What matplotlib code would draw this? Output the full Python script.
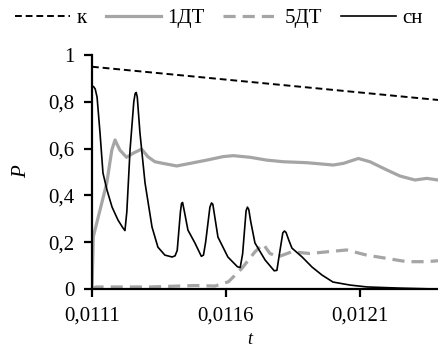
import matplotlib
matplotlib.use("Agg")
import matplotlib.pyplot as plt
from matplotlib.ticker import FuncFormatter

plt.rcParams['font.family'] = ['Liberation Serif', 'DejaVu Serif']
plt.rcParams['font.size'] = 15

# --- data ---
t_k = [0.011100, 0.012391]
p_k = [0.950, 0.808]

t_1dt = [0.011100, 0.011105, 0.011130, 0.011155, 0.011174, 0.011186, 0.011204, 0.011229,
         0.011253, 0.011285, 0.011309, 0.011335, 0.011365, 0.011416, 0.011466, 0.011528,
         0.011590, 0.011627, 0.011690, 0.011752, 0.011814, 0.011901, 0.012000, 0.012038,
         0.012094, 0.012137, 0.012200, 0.012249, 0.012305, 0.012349, 0.012391]
p_1dt = [0.0, 0.224, 0.338, 0.452, 0.594, 0.637, 0.594, 0.563,
         0.580, 0.598, 0.565, 0.544, 0.537, 0.526, 0.537, 0.551,
         0.566, 0.570, 0.563, 0.551, 0.544, 0.540, 0.530, 0.537,
         0.558, 0.544, 0.509, 0.483, 0.466, 0.473, 0.466]

t_5dt = [0.011100, 0.011115, 0.011316, 0.011484, 0.011559, 0.011609, 0.011659, 0.011708,
         0.011739, 0.011764, 0.011795, 0.011845, 0.011913, 0.011976, 0.012050, 0.012125,
         0.012200, 0.012274, 0.012349, 0.012391]
p_5dt = [0.0, 0.009, 0.009, 0.015, 0.013, 0.031, 0.088, 0.159,
         0.192, 0.152, 0.138, 0.159, 0.152, 0.159, 0.167, 0.145,
         0.131, 0.117, 0.117, 0.121]

t_sn = [0.011100, 0.011106, 0.011112, 0.011119, 0.011130, 0.011141, 0.011156, 0.011175,
        0.011197, 0.011215, 0.011223, 0.011230, 0.011242, 0.011256, 0.011261, 0.011265,
        0.011269, 0.011279, 0.011298, 0.011324, 0.011346, 0.011372, 0.011399, 0.011410,
        0.011418, 0.011430, 0.011434, 0.011438, 0.011445, 0.011458, 0.011484, 0.011508,
        0.011516, 0.011524, 0.011540, 0.011546, 0.011551, 0.011558, 0.011570, 0.011607,
        0.011643, 0.011653, 0.011662, 0.011675, 0.011680, 0.011685, 0.011692, 0.011708,
        0.011746, 0.011780, 0.011790, 0.011798, 0.011812, 0.011818, 0.011824, 0.011834,
        0.011846, 0.011884, 0.011921, 0.011958, 0.011999, 0.012063, 0.012126, 0.012249,
        0.012391]
p_sn = [0.868, 0.865, 0.855, 0.820, 0.667, 0.496, 0.423, 0.350,
        0.295, 0.262, 0.250, 0.330, 0.594, 0.800, 0.835, 0.840, 0.820,
        0.667, 0.453, 0.265, 0.179, 0.145, 0.137, 0.142, 0.165, 0.330, 0.365,
        0.370, 0.330, 0.252, 0.197, 0.140, 0.145, 0.200, 0.350, 0.368, 0.362,
        0.310, 0.222, 0.137, 0.095, 0.092, 0.150, 0.335, 0.350, 0.340, 0.290,
        0.197, 0.124, 0.078, 0.080, 0.140, 0.240, 0.248, 0.242, 0.210,
        0.175, 0.137, 0.094, 0.060, 0.030, 0.017, 0.009, 0.004,
        0.0]

x_ticks = [0.0111, 0.0116, 0.0121]
y_ticks = [0, 0.2, 0.4, 0.6, 0.8, 1]

gray = '#a5a5a5'

fig = plt.figure(figsize=(4.38, 3.47), dpi=100)
ax = fig.add_axes([0.210, 0.167, 0.790, 0.6744])

ax.plot(t_k, p_k, color='black', lw=1.4, dashes=(3.5, 2), label='к')
ax.plot(t_1dt, p_1dt, color=gray, lw=2.3, label='1ДТ')
ax.plot(t_5dt, p_5dt, color=gray, lw=2.3, dashes=(3.8, 2.2), label='5ДТ')
ax.plot(t_sn, p_sn, color='black', lw=1.2, label='сн')

ax.set_xlim(0.0111, 0.012391)
ax.set_ylim(0, 1)
ax.set_xticks(x_ticks)
ax.set_yticks(y_ticks)

def fmt(v, pos):
    s = ('%.4f' % v).rstrip('0').rstrip('.')
    return s.replace('.', ',')
ax.xaxis.set_major_formatter(FuncFormatter(fmt))
ax.yaxis.set_major_formatter(FuncFormatter(fmt))

for s in ['top', 'right']:
    ax.spines[s].set_visible(False)
for s in ['left', 'bottom']:
    ax.spines[s].set_linewidth(1.6)
ax.tick_params(direction='out', length=5.5, width=1.6, labelsize=15)
ax.tick_params(axis='x', pad=7)
ax.tick_params(axis='y', pad=7)

ax.set_xlabel('t', style='italic', fontsize=13)
ax.xaxis.set_label_coords(0.457, -0.18)
ax.set_ylabel('P', style='italic', fontsize=15)
ax.yaxis.set_label_coords(-0.175, 0.5)

fig.legend(loc='center', bbox_to_anchor=(0.5, 0.948), ncol=4, frameon=False,
           handlelength=2.65, handletextpad=0.3, columnspacing=0.9, fontsize=15)

fig.savefig('out.png', dpi=100)
